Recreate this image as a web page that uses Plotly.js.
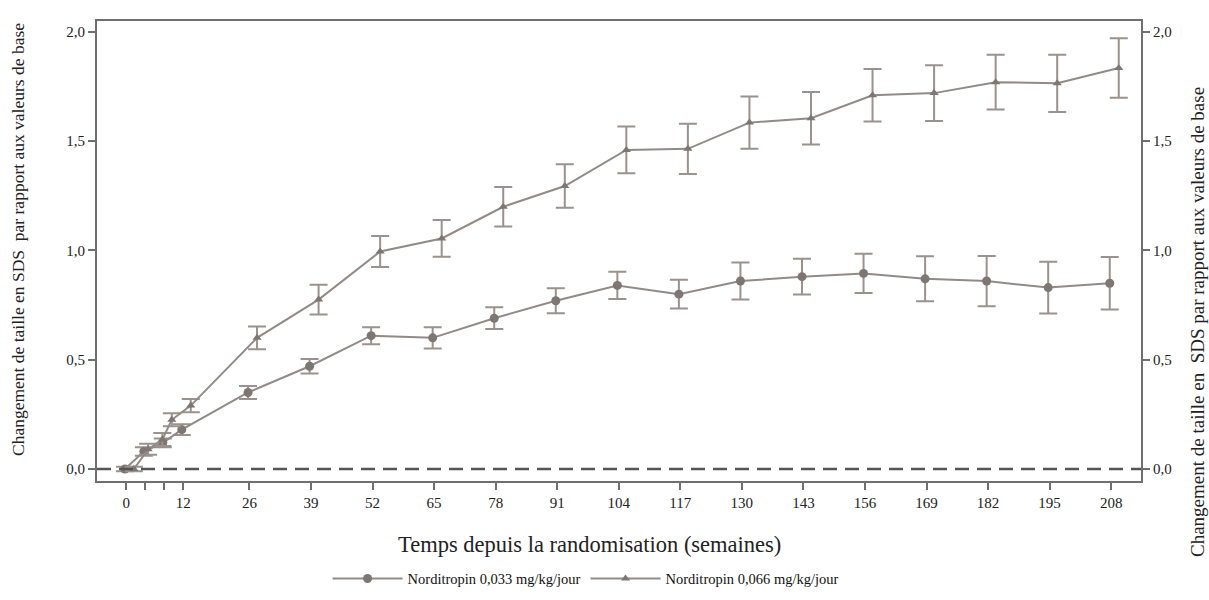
<!DOCTYPE html>
<html>
<head>
<meta charset="utf-8">
<script src="https://cdn.plot.ly/plotly-3.0.1.min.js"></script>
<style>html,body{margin:0;padding:0;background:#fff;}#chart{width:1209px;height:600px;}</style>
</head>
<body>
<div id="chart"></div>
<script>
// Data (weeks since randomisation)
const weeksLow = [0, 4, 8, 12, 26, 39, 52, 65, 78, 91, 104, 117, 130, 143, 156, 169, 182, 195, 208];
const valuesLow = [0, 0.08, 0.12, 0.18, 0.35, 0.47, 0.61, 0.60, 0.69, 0.77, 0.84, 0.80, 0.86, 0.88, 0.895, 0.87, 0.86, 0.83, 0.85];
const errLow = [0.01, 0.02, 0.02, 0.025, 0.03, 0.033, 0.039, 0.049, 0.05, 0.057, 0.062, 0.066, 0.085, 0.082, 0.09, 0.103, 0.115, 0.118, 0.12];

const weeksHigh = [0, 3, 6, 8, 12, 26, 39, 52, 65, 78, 91, 104, 117, 130, 143, 156, 169, 182, 195, 208];
const valuesHigh = [0, 0.09, 0.135, 0.225, 0.29, 0.60, 0.775, 0.995, 1.055, 1.20, 1.295, 1.46, 1.465, 1.585, 1.605, 1.71, 1.72, 1.77, 1.765, 1.835];
const errHigh = [0.01, 0.025, 0.03, 0.03, 0.03, 0.052, 0.068, 0.071, 0.084, 0.09, 0.1, 0.107, 0.115, 0.12, 0.12, 0.12, 0.128, 0.125, 0.131, 0.136];

const xTickVals = [0, 4, 8, 12, 26, 39, 52, 65, 78, 91, 104, 117, 130, 143, 156, 169, 182, 195, 208];
const xTickText = ['0', '', '', '12', '26', '39', '52', '65', '78', '91', '104', '117', '130', '143', '156', '169', '182', '195', '208'];
const yTickVals = [0, 0.5, 1.0, 1.5, 2.0];
const yTickText = ['0,0', '0,5', '1,0', '1,5', '2,0'];

const seriesNames = ['Norditropin 0,033 mg/kg/jour', 'Norditropin 0,066 mg/kg/jour'];
const yTitleLeft = 'Changement de taille en SDS  par rapport aux valeurs de base';
const yTitleRight = 'Changement de taille en  SDS par rapport aux valeurs de base';
const xTitle = 'Temps depuis la randomisation (semaines)';

// small horizontal dodge between groups (style)
const dodgeLow = -0.3, dodgeHigh = 1.6;

const lineCol = '#928a86';
const markCol = '#7d7672';
const serif = 'Liberation Serif';

const traces = [
  {
    x: weeksLow.map(w => w + dodgeLow), y: valuesLow, name: seriesNames[0],
    type: 'scatter', mode: 'lines+markers',
    line: {color: lineCol, width: 2},
    marker: {symbol: 'circle', size: 9, color: markCol},
    error_y: {type: 'data', array: errLow, visible: true, color: '#9a928e', thickness: 2, width: 9}
  },
  {
    x: weeksHigh.map(w => w + dodgeHigh), y: valuesHigh, name: seriesNames[1],
    type: 'scatter', mode: 'lines+markers',
    line: {color: lineCol, width: 2},
    marker: {symbol: 'triangle-up', size: 8, color: markCol},
    error_y: {type: 'data', array: errHigh, visible: true, color: '#9a928e', thickness: 2, width: 9}
  },
  {
    x: [0], y: [0], yaxis: 'y2', showlegend: false, hoverinfo: 'skip',
    type: 'scatter', mode: 'markers', marker: {opacity: 0}
  }
];

const axisCommon = {
  showgrid: false, zeroline: false, showline: true, linecolor: '#6f6f6f', linewidth: 2,
  ticks: 'outside', ticklen: 7, tickwidth: 2, tickcolor: '#6f6f6f', automargin: false,
  tickfont: {family: serif, size: 15, color: '#222'}
};

const layout = {
  width: 1209, height: 600,
  margin: {l: 97, r: 68, t: 21, b: 119, autoexpand: false},
  paper_bgcolor: '#ffffff', plot_bgcolor: '#ffffff',
  font: {family: serif, color: '#222'},
  showlegend: true,
  legend: {
    orientation: 'h', x: 0.468, xanchor: 'center', y: -0.212, yanchor: 'middle',
    font: {family: serif, size: 14.5, color: '#111'}, itemwidth: 70
  },
  xaxis: Object.assign({}, axisCommon, {
    range: [-6.2, 214.3], tickvals: xTickVals, ticktext: xTickText, mirror: true
  }),
  yaxis: Object.assign({}, axisCommon, {
    range: [-0.055, 2.05], tickvals: yTickVals, ticktext: yTickText
  }),
  yaxis2: Object.assign({}, axisCommon, {
    range: [-0.055, 2.05], tickvals: yTickVals, ticktext: yTickText,
    overlaying: 'y', side: 'right'
  }),
  annotations: [
    {text: xTitle, xref: 'paper', yref: 'paper', x: 0.472, y: -0.139, xanchor: 'center', yanchor: 'middle',
     showarrow: false, font: {family: serif, size: 22.5, color: '#222'}},
    {text: yTitleLeft, xref: 'paper', yref: 'paper', x: (18 - 97) / 1044, y: (481 - 240) / 460,
     xanchor: 'center', yanchor: 'middle', textangle: -90,
     showarrow: false, font: {family: serif, size: 17.5, color: '#222'}},
    {text: yTitleRight, xref: 'paper', yref: 'paper', x: (1197 - 97) / 1044, y: (481 - 322) / 460,
     xanchor: 'center', yanchor: 'middle', textangle: -90,
     showarrow: false, font: {family: serif, size: 19, color: '#222'}}
  ],
  shapes: [{
    type: 'line', xref: 'paper', x0: 0, x1: 1, yref: 'y', y0: 0, y1: 0,
    line: {color: '#555', width: 2.5, dash: '14px,8px'}, layer: 'above'
  }]
};

Plotly.newPlot('chart', traces, layout, {displayModeBar: false, staticPlot: true});
</script>
</body>
</html>
